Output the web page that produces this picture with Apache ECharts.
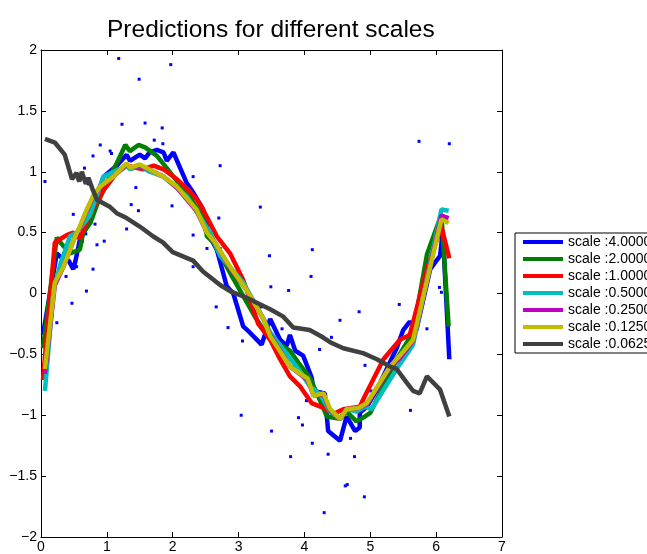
<!DOCTYPE html>
<html><head><meta charset="utf-8">
<script src="https://cdn.jsdelivr.net/npm/echarts@6/dist/echarts.min.js"></script>
<style>html,body{margin:0;padding:0;background:#fff}#c{width:647px;height:554px}</style>
</head><body><div id="c"></div>
<script>
const titleText = 'Predictions for different scales';
const seriesNames = ['scale :4.0000','scale :2.0000','scale :1.0000','scale :0.5000','scale :0.2500','scale :0.1250','scale :0.0625'];
const seriesColors = ['#0000ff','#008000','#ff0000','#00bfbf','#bf00bf','#bfbf00','#404040'];

const observations = [[0.06,0.92],[1.18,1.93],[1.97,1.88],[1.49,1.76],[1.23,1.39],[1.58,1.40],[1.84,1.36],[0.90,1.22],[1.72,1.26],[1.85,1.23],[0.79,1.13],[1.05,1.17],[1.07,1.15],[0.66,1.03],[2.72,1.05],[2.31,0.96],[1.98,0.97],[0.59,0.94],[0.72,0.90],[1.44,0.87],[1.68,1.01],[1.99,0.72],[1.37,0.73],[1.48,0.68],[0.49,0.65],[3.33,0.71],[2.70,0.62],[0.82,0.57],[1.30,0.53],[2.31,0.48],[0.58,0.49],[0.85,0.40],[0.96,0.43],[0.63,0.43],[0.68,0.49],[2.52,0.37],[2.72,0.37],[0.54,0.22],[0.79,0.20],[0.38,0.14],[2.31,0.22],[0.69,0.02],[0.47,-0.08],[0.24,-0.24],[2.66,-0.11],[2.84,-0.28],[3.06,-0.39],[3.47,0.31],[4.12,0.36],[4.10,0.14],[3.49,0.055],[3.76,0.025],[5.44,-0.09],[6.05,0.05],[6.08,0.01],[4.83,-0.15],[4.54,-0.22],[3.34,-0.11],[3.66,-0.29],[5.86,-0.29],[4.41,-0.36],[4.23,-0.46],[4.92,-0.59],[3.83,-0.61],[5.01,-0.80],[5.74,1.25],[6.20,1.23],[4.03,-0.88],[4.31,-0.86],[4.95,-0.91],[3.91,-1.02],[4.43,-1.01],[5.61,-0.96],[3.50,-1.13],[3.97,-1.08],[4.70,-1.19],[4.12,-1.23],[3.79,-1.34],[4.36,-1.32],[4.76,-1.34],[4.62,-1.58],[4.65,-1.57],[4.91,-1.67],[4.30,-1.80],[3.04,-1.00]];

const scale4 = [[0.03,-0.34],[0.24,0.33],[0.34,0.28],[0.42,0.27],[0.49,0.20],[0.52,0.26],[0.59,0.44],[0.70,0.55],[0.80,0.72],[0.95,0.96],[1.15,1.05],[1.30,1.14],[1.35,1.09],[1.50,1.14],[1.58,1.11],[1.65,1.16],[1.76,1.18],[1.86,1.16],[1.91,1.09],[2.01,1.16],[2.21,0.91],[2.31,0.83],[2.46,0.69],[2.52,0.55],[2.59,0.44],[2.67,0.36],[2.74,0.22],[2.82,0.06],[2.92,0.0],[3.07,-0.27],[3.17,-0.32],[3.35,-0.42],[3.48,-0.21],[3.63,-0.38],[3.73,-0.43],[3.78,-0.34],[3.86,-0.47],[3.98,-0.51],[4.11,-0.69],[4.14,-0.80],[4.31,-0.82],[4.36,-1.13],[4.54,-1.21],[4.64,-1.01],[4.77,-1.13],[4.84,-1.10],[4.84,-0.98],[4.95,-0.93],[5.10,-0.79],[5.25,-0.62],[5.40,-0.45],[5.50,-0.30],[5.60,-0.23],[5.70,-0.30],[5.91,0.20],[6.06,0.31],[6.10,0.51],[6.20,-0.54]];
const scale2 = [[0.03,-0.45],[0.24,0.46],[0.29,0.42],[0.44,0.33],[0.59,0.36],[0.64,0.50],[0.75,0.58],[0.85,0.73],[1.0,0.91],[1.15,1.07],[1.28,1.22],[1.35,1.17],[1.48,1.22],[1.58,1.20],[1.76,1.13],[1.91,1.03],[2.01,0.96],[2.21,0.83],[2.46,0.63],[2.52,0.47],[2.62,0.42],[2.87,0.17],[3.07,-0.02],[3.27,-0.21],[3.48,-0.38],[3.63,-0.42],[3.78,-0.47],[3.91,-0.57],[4.08,-0.69],[4.19,-0.82],[4.34,-1.01],[4.54,-1.03],[4.64,-0.97],[4.79,-1.05],[4.92,-1.01],[5.0,-0.98],[5.30,-0.65],[5.40,-0.54],[5.65,-0.32],[5.86,0.32],[6.08,0.65],[6.19,-0.27]];
const scale1 = [[0.03,-0.71],[0.21,0.42],[0.30,0.45],[0.39,0.48],[0.49,0.50],[0.59,0.45],[0.69,0.58],[0.79,0.70],[0.95,0.85],[1.15,0.99],[1.30,1.05],[1.55,1.02],[1.71,1.05],[1.86,1.02],[2.06,0.94],[2.26,0.84],[2.41,0.74],[2.67,0.47],[2.87,0.33],[3.07,0.11],[3.30,-0.25],[3.48,-0.38],[3.63,-0.54],[3.78,-0.68],[3.93,-0.76],[4.11,-0.90],[4.29,-0.94],[4.44,-0.99],[4.59,-0.95],[4.84,-0.93],[4.92,-0.84],[5.20,-0.54],[5.45,-0.38],[5.60,-0.34],[5.86,0.20],[6.08,0.55],[6.20,0.29]];
const scale05 = [[0.06,-0.80],[0.19,0.03],[0.30,0.25],[0.44,0.47],[0.54,0.50],[0.74,0.64],[0.95,0.96],[1.30,1.05],[1.35,1.02],[1.50,1.05],[1.65,1.00],[1.86,0.96],[2.21,0.80],[2.57,0.50],[2.72,0.31],[3.07,0.09],[3.38,-0.21],[3.48,-0.32],[3.68,-0.46],[3.88,-0.60],[4.08,-0.76],[4.24,-0.83],[4.39,-0.97],[4.54,-1.03],[4.64,-0.95],[4.79,-0.97],[4.92,-0.93],[5.02,-0.95],[5.25,-0.75],[5.45,-0.58],[5.65,-0.42],[6.08,0.69],[6.19,0.68]];
const scale025 = [[0.06,-0.66],[0.21,0.07],[0.34,0.22],[0.52,0.47],[0.59,0.54],[0.67,0.65],[0.79,0.79],[0.90,0.88],[1.10,0.96],[1.30,1.06],[1.35,1.03],[1.50,1.05],[1.71,1.00],[1.86,0.96],[2.06,0.87],[2.36,0.68],[2.52,0.50],[2.64,0.42],[2.87,0.21],[3.12,0.03],[3.38,-0.21],[3.48,-0.34],[3.78,-0.60],[4.05,-0.71],[4.14,-0.84],[4.29,-0.83],[4.39,-0.96],[4.54,-1.03],[4.64,-0.95],[4.82,-0.94],[4.95,-0.91],[5.30,-0.61],[5.45,-0.53],[5.65,-0.39],[6.08,0.64],[6.19,0.62]];
const scale0125 = [[0.06,-0.62],[0.21,0.09],[0.34,0.22],[0.52,0.47],[0.59,0.55],[0.67,0.66],[0.79,0.80],[0.90,0.88],[1.10,0.96],[1.30,1.07],[1.35,1.03],[1.50,1.06],[1.71,1.00],[1.86,0.96],[2.06,0.88],[2.36,0.69],[2.52,0.50],[2.64,0.42],[2.87,0.22],[3.12,0.03],[3.38,-0.21],[3.48,-0.35],[3.78,-0.60],[4.05,-0.70],[4.14,-0.84],[4.29,-0.82],[4.39,-0.95],[4.54,-1.03],[4.64,-0.95],[4.82,-0.94],[4.95,-0.90],[5.30,-0.60],[5.45,-0.51],[5.65,-0.38],[6.08,0.61],[6.19,0.58]];
const scale00625 = [[0.06,1.27],[0.21,1.24],[0.36,1.14],[0.47,0.94],[0.54,0.99],[0.58,0.92],[0.62,1.00],[0.68,0.90],[0.72,0.95],[0.78,0.86],[0.85,0.77],[1.05,0.71],[1.15,0.66],[1.30,0.62],[1.50,0.55],[1.70,0.47],[1.85,0.42],[2.0,0.34],[2.31,0.27],[2.46,0.18],[2.72,0.07],[2.87,0.02],[3.12,-0.035],[3.48,-0.13],[3.68,-0.19],[3.83,-0.28],[4.08,-0.30],[4.28,-0.36],[4.39,-0.40],[4.59,-0.45],[4.89,-0.49],[5.10,-0.54],[5.30,-0.60],[5.40,-0.62],[5.55,-0.73],[5.65,-0.80],[5.75,-0.82],[5.86,-0.68],[6.06,-0.79],[6.20,-1.01]];

const lineData = [scale4, scale2, scale1, scale05, scale025, scale0125, scale00625];

const FONT = 'Liberation Sans';
const fmt = v => String(v).replace('-', '\u2212');
const axisCommon = {
  type: 'value',
  axisLine: { show: true, onZero: false, lineStyle: { color: '#000', width: 1 } },
  axisTick: { show: true, inside: true, length: 5, lineStyle: { color: '#000' } },
  splitLine: { show: false }
};

const chart = echarts.init(document.getElementById('c'), null, { renderer: 'canvas' });
const series = [{
  type: 'scatter', name: 'obs', data: observations, symbol: 'rect', symbolSize: 3,
  itemStyle: { color: '#0000ff', opacity: 1 }, silent: true, animation: false
}];
lineData.forEach((d, i) => series.push({
  type: 'line', name: seriesNames[i], data: d, showSymbol: false, symbol: 'none',
  lineStyle: { color: seriesColors[i], width: 4.5 }, itemStyle: { color: seriesColors[i] },
  animation: false
}));

chart.setOption({
  backgroundColor: '#fff',
  title: { text: titleText, left: 107, top: 18, padding: 0,
    textStyle: { fontFamily: FONT, fontSize: 24.5, fontWeight: 'normal', color: '#000' } },
  grid: { left: 41, right: 145, top: 50, bottom: 17, containLabel: false },
  legend: {
    data: seriesNames, orient: 'vertical', left: 515, top: 233,
    icon: 'rect', itemWidth: 40, itemHeight: 4, itemGap: 3,
    padding: [2, 10, 2, 8], borderColor: '#000', borderWidth: 1, backgroundColor: '#fff',
    textStyle: { fontFamily: FONT, fontSize: 14, lineHeight: 14, color: '#000' }
  },
  xAxis: [
    Object.assign({}, axisCommon, { min: 0, max: 7, interval: 1, position: 'bottom',
      axisLabel: { color: '#000', fontFamily: FONT, fontSize: 14, margin: 3, formatter: fmt } }),
    Object.assign({}, axisCommon, { min: 0, max: 7, interval: 1, position: 'top', axisLabel: { show: false } })
  ],
  yAxis: [
    Object.assign({}, axisCommon, { min: -2, max: 2, interval: 0.5, position: 'left',
      axisLabel: { color: '#000', fontFamily: FONT, fontSize: 14, margin: 4, formatter: fmt } }),
    Object.assign({}, axisCommon, { min: -2, max: 2, interval: 0.5, position: 'right', axisLabel: { show: false } })
  ],
  series: series
});
</script></body></html>
